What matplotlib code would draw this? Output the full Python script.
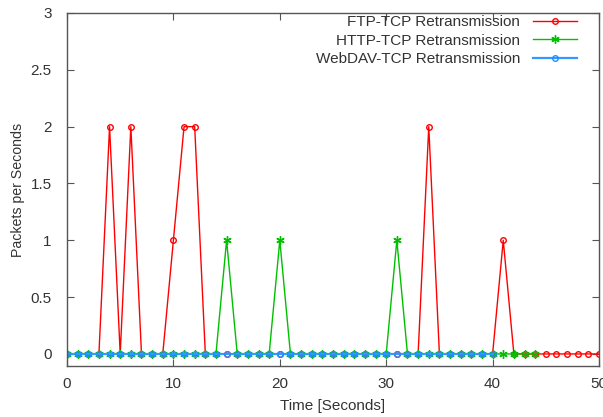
import matplotlib
matplotlib.use("Agg")
import matplotlib.pyplot as plt
import numpy as np

# Data
ftp_x = list(range(0, 51))
ftp_peaks = {4: 2, 6: 2, 10: 1, 11: 2, 12: 2, 34: 2, 41: 1}
ftp_y = [ftp_peaks.get(x, 0) for x in ftp_x]

http_x = list(range(0, 45))
http_peaks = {15: 1, 20: 1, 31: 1}
http_y = [http_peaks.get(x, 0) for x in http_x]

webdav_x = list(range(0, 41))
webdav_y = [0] * len(webdav_x)

x_ticks = [0, 10, 20, 30, 40, 50]
y_ticks = [0, 0.5, 1, 1.5, 2, 2.5, 3]
y_tick_labels = ["0", "0.5", "1", "1.5", "2", "2.5", "3"]

plt.rcParams['font.family'] = ['Liberation Sans', 'DejaVu Sans']

fig = plt.figure(figsize=(6.03, 4.17), dpi=100)
ax = fig.add_axes([67/603, 51/417, 532/603, 353/417])

ax.plot(ftp_x, ftp_y, color='#ff0000', lw=1.0, marker='o', ms=4,
        mfc='none', mec='#ff0000', mew=1.0, label='FTP-TCP Retransmission')
ax.plot(http_x, http_y, color='#00c000', lw=1.0, marker=(6, 2, 0), ms=6,
        mec='#00c000', mew=1.0, label='HTTP-TCP Retransmission')
ax.plot(webdav_x, webdav_y, color='#3399ff', lw=1.6, marker='o', ms=4,
        mfc='none', mec='#1e90ff', mew=1.0, label='WebDAV-TCP Retransmission')

ax.set_xlim(0, 50)
ax.set_ylim(-0.106, 3)
ax.set_xticks(x_ticks)
ax.set_yticks(y_ticks)
ax.set_yticklabels(y_tick_labels)

txtc = '#333333'
fs = 11
for s in ax.spines.values():
    s.set_color('#555555')
    s.set_linewidth(1.0)
ax.tick_params(axis='both', direction='in', top=True, right=True, length=5, width=0.8,
               colors='#555555', labelcolor=txtc, labelsize=fs)
ax.tick_params(axis='y', pad=11)
ax.tick_params(axis='x', pad=8)

ax.set_xlabel('Time [Seconds]', fontsize=fs, color=txtc, labelpad=6)
ax.set_ylabel('Packets per Seconds', fontsize=10.2, color=txtc, labelpad=4)

leg = ax.legend(loc='upper right', bbox_to_anchor=((577-67)/532, 1 - 2/353),
                frameon=False, markerfirst=False, borderpad=0, borderaxespad=0,
                fontsize=fs, handlelength=44/15.3, labelspacing=0.3,
                handletextpad=13/15.3)
for t in leg.get_texts():
    t.set_color(txtc)
    t.set_ha('right')

fig.savefig('out.png', dpi=100)
